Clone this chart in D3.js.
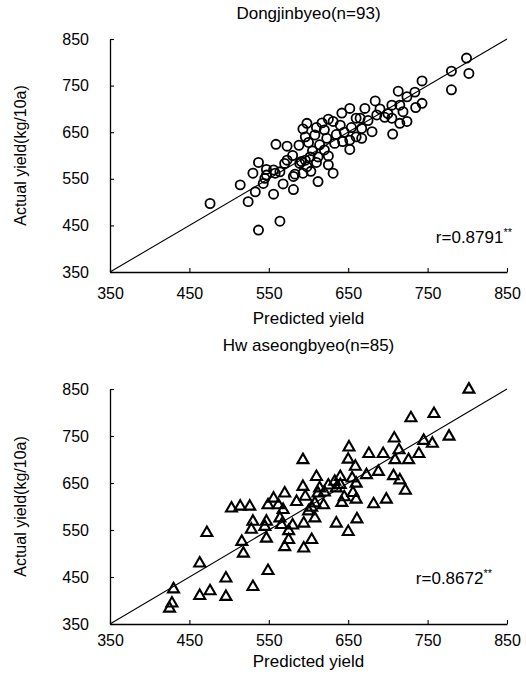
<!DOCTYPE html>
<html>
<head>
<meta charset="utf-8">
<script src="https://cdn.jsdelivr.net/npm/d3@7"></script>
<style>
    body { margin: 0; background: #fff; }
    svg text { font-family: "Liberation Sans", Arial, Helvetica, sans-serif; fill: #000; }
</style>
</head>
<body>
<div id="chart"></div>
<script>
// axis ticks, same on both axes and both panels
const axisTicks = [350, 450, 550, 650, 750, 850];

// Dongjinbyeo (n=93): predicted vs actual yield (kg/10a)
const dongjinPredicted = [799, 780, 802, 780, 743, 734, 713, 724, 743, 735, 684, 705, 715, 671, 652, 719,
    642, 686, 696, 705, 724, 715, 665, 625, 617, 598, 631, 654, 667, 680, 706, 608, 596, 623, 633, 643,
    652, 667, 614, 652, 602, 612, 625, 591, 598, 631, 612, 593, 559, 573, 588, 573, 537, 589, 596, 530,
    547, 556, 564, 583, 593, 545, 514, 568, 476, 533, 524, 556, 581, 564, 537, 543, 547, 558, 570, 581,
    603, 610, 620, 640, 660, 690, 605, 620, 635, 580, 600, 645, 675, 700, 610, 625, 660];
const dongjinActual = [809, 781, 776, 741, 760, 736, 738, 726, 712, 703, 717, 708, 708, 701, 701, 694,
    691, 687, 682, 680, 673, 669, 680, 678, 670, 669, 673, 660, 658, 651, 646, 644, 640, 637, 626, 630,
    633, 637, 623, 613, 597, 597, 599, 587, 576, 562, 544, 657, 624, 620, 622, 590, 585, 583, 590, 562,
    570, 569, 565, 560, 562, 551, 537, 539, 497, 522, 501, 517, 527, 459, 440, 540, 558, 562, 583, 555,
    566, 660, 655, 665, 680, 700, 610, 612, 645, 600, 628, 650, 675, 690, 585, 580, 640];

// Hwaseongbyeo (n=85)
const hwaseongPredicted = [802, 758, 729, 777, 745, 756, 708, 714, 739, 726, 709, 694, 676, 651, 650, 659,
    688, 673, 707, 715, 722, 655, 660, 640, 633, 610, 593, 698, 682, 656, 642, 635, 614, 612, 593, 596,
    608, 619, 604, 594, 608, 635, 650, 661, 604, 594, 570, 556, 526, 514, 503, 549, 562, 568, 530, 547,
    564, 528, 545, 566, 575, 472, 516, 547, 575, 570, 518, 463, 549, 496, 530, 430, 476, 463, 496, 428,
    425, 640, 625, 645, 585, 600, 660, 580, 620];
const hwaseongActual = [849, 797, 788, 749, 740, 734, 745, 720, 712, 699, 699, 712, 712, 726, 700, 685,
    674, 667, 665, 656, 634, 660, 649, 663, 653, 663, 699, 615, 605, 629, 608, 639, 639, 628, 642, 621,
    607, 603, 598, 564, 575, 564, 546, 573, 529, 511, 628, 617, 600, 600, 596, 603, 603, 593, 568, 568,
    575, 551, 557, 561, 548, 544, 525, 532, 529, 514, 500, 479, 463, 447, 429, 424, 420, 410, 408, 394,
    383, 646, 645, 620, 610, 590, 615, 560, 630];

const panelTitles = ["Dongjinbyeo(n=93)", "Hw aseongbyeo(n=85)"];
const rValues = ["0.8791", "0.8672"];
const xTitle = "Predicted yield";
const yTitle = "Actual yield(kg/10a)";

const width = 526, height = 683;
const left = 110, right = 507;

const svg = d3.select("#chart")
    .append("svg")
    .attr("width", width)
    .attr("height", height);

const x = d3.scaleLinear().domain([350, 850]).range([left, right]);

const panels = [
    { top: 39, bottom: 272, titleY: 13, labelPad: 16, xTitleY: 318, rX: 512, rY: 237,
      pred: dongjinPredicted, act: dongjinActual, symbol: d3.symbolCircle },
    { top: 389, bottom: 624, titleY: 345, labelPad: 11, xTitleY: 661, rX: 492, rY: 578,
      pred: hwaseongPredicted, act: hwaseongActual, symbol: d3.symbolTriangle }
];

panels.forEach(function(p, i) {
    const y = d3.scaleLinear().domain([350, 850]).range([p.bottom, p.top]);
    const g = svg.append("g");

    // 1:1 line
    g.append("line")
        .attr("x1", x(350)).attr("y1", y(350))
        .attr("x2", x(850)).attr("y2", y(850))
        .attr("stroke", "#000")
        .attr("stroke-width", 1.1);

    const points = p.pred.map((v, k) => ({ pred: v, act: p.act[k] }));

    const sym = p.symbol === d3.symbolCircle
        ? d3.symbol().type(d3.symbolCircle).size(66)
        : d3.symbol().type(d3.symbolTriangle).size(52);

    g.selectAll(".pt")
        .data(points)
        .enter()
        .append("path")
        .attr("class", "pt")
        .attr("d", sym)
        .attr("transform", d => `translate(${x(d.pred)},${y(d.act)})`)
        .attr("fill", "none")
        .attr("stroke", "#000")
        .attr("stroke-width", p.symbol === d3.symbolCircle ? 1.8 : 2.1);

    // axes
    const xAxis = g.append("g")
        .attr("transform", `translate(0,${p.bottom})`)
        .call(d3.axisBottom(x).tickValues(axisTicks).tickFormat(d3.format("d"))
            .tickSizeInner(-4).tickSizeOuter(0).tickPadding(p.labelPad));

    const yAxis = g.append("g")
        .attr("transform", `translate(${left},0)`)
        .call(d3.axisLeft(y).tickValues(axisTicks).tickFormat(d3.format("d"))
            .tickSizeInner(-4).tickSizeOuter(0).tickPadding(21));

    [xAxis, yAxis].forEach(function(a) {
        a.select(".domain").attr("stroke", "#000").attr("stroke-width", 1.3);
        a.selectAll(".tick line").attr("stroke", "#000").attr("stroke-width", 1.1);
        a.selectAll("text").attr("font-size", "16px").attr("fill", "#000");
    });

    // titles
    g.append("text")
        .attr("x", (left + right) / 2)
        .attr("y", p.titleY)
        .attr("text-anchor", "middle")
        .attr("dominant-baseline", "central")
        .attr("font-size", "17px")
        .text(panelTitles[i]);

    g.append("text")
        .attr("x", (left + right) / 2)
        .attr("y", p.xTitleY)
        .attr("text-anchor", "middle")
        .attr("dominant-baseline", "central")
        .attr("font-size", "17px")
        .text(xTitle);

    g.append("text")
        .attr("transform", `translate(20,${(p.top + p.bottom) / 2}) rotate(-90)`)
        .attr("text-anchor", "middle")
        .attr("dominant-baseline", "central")
        .attr("font-size", "16px")
        .text(yTitle);

    const r = g.append("text")
        .attr("x", p.rX)
        .attr("y", p.rY)
        .attr("text-anchor", "end")
        .attr("dominant-baseline", "central")
        .attr("font-size", "17px");
    r.append("tspan").text("r=" + rValues[i]);
    r.append("tspan").attr("font-size", "11px").attr("dy", -5).text("**");
});
</script>
</body>
</html>
